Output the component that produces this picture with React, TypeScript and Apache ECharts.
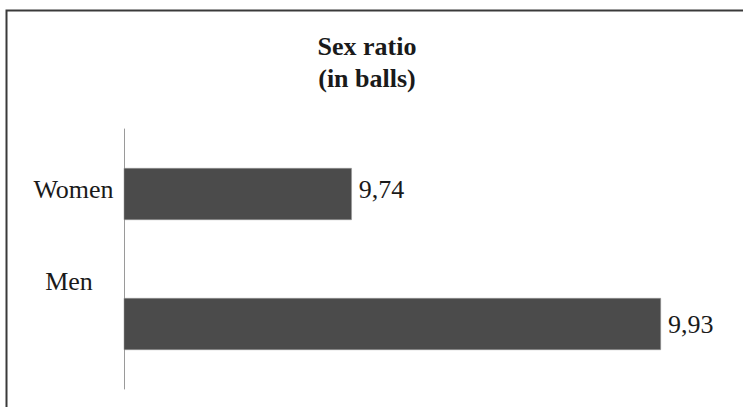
import React, { useEffect, useRef } from "react";
import * as echarts from "echarts";

const categories = ["Women", "Men"];
const values = [9.74, 9.93];
const titleLines = ["Sex ratio", "(in balls)"];

const FONT = "Liberation Serif";

export default function App() {
  const ref = useRef<HTMLDivElement>(null);
  useEffect(() => {
    if (!ref.current) return;
    const chart = echarts.init(ref.current, undefined, { renderer: "svg" });
    const valOffset = [
      [0, -5],
      [0, 0],
    ];
    const serif = {
      fontFamily: FONT,
      fontSize: 26,
      color: "#1a1a1a",
    };
    chart.setOption({
      animation: false,
      backgroundColor: "#ffffff",
      textStyle: { fontFamily: FONT },
      title: {
        text: titleLines.join("\n"),
        left: 367,
        top: 30,
        padding: 0,
        textAlign: "center",
        textStyle: {
          ...serif,
          fontWeight: "bold",
          lineHeight: 32,
        },
      },
      graphic: [
        {
          type: "rect",
          shape: { x: 6.5, y: 10.5, width: 800, height: 500 },
          style: { fill: "none", stroke: "#3a3a3a", lineWidth: 2 },
          silent: true,
        },
      ],
      grid: {
        left: 124,
        top: 129,
        bottom: 18,
        width: 569.5,
        containLabel: false,
        outerBoundsMode: "none",
      },
      xAxis: {
        type: "value",
        min: 9.6,
        max: 9.95,
        show: false,
      },
      yAxis: {
        type: "category",
        inverse: true,
        data: categories,
        axisLine: { show: true, lineStyle: { color: "#9a9a9a", width: 1 } },
        axisTick: { show: false },
        splitLine: { show: false },
        axisLabel: {
          margin: 52,
          align: "center",
          ...serif,
          formatter: (v: string, i: number) => `{c${i}|${v}}`,
          rich: {
            c0: { ...serif, padding: [0, 0, 10, 3] },
            c1: { ...serif, padding: [0, 6, 86, 0] },
          },
        },
      },
      series: [
        {
          type: "bar",
          barWidth: 52,
          data: values.map((v, i) => ({
            value: v,
            label: { offset: valOffset[i] },
          })),
          itemStyle: { color: "#4b4b4b", borderColor: "#9a9a9a", borderWidth: 0.5 },
          label: {
            show: true,
            position: "right",
            distance: 7,
            ...serif,
            formatter: (p: any) => Number(p.value).toFixed(2).replace(".", ","),
          },
        },
      ],
    });
    return () => chart.dispose();
  }, []);
  return (
    <div
      ref={ref}
      style={{ position: "fixed", left: 0, top: 0, width: 743, height: 407 }}
    />
  );
}
